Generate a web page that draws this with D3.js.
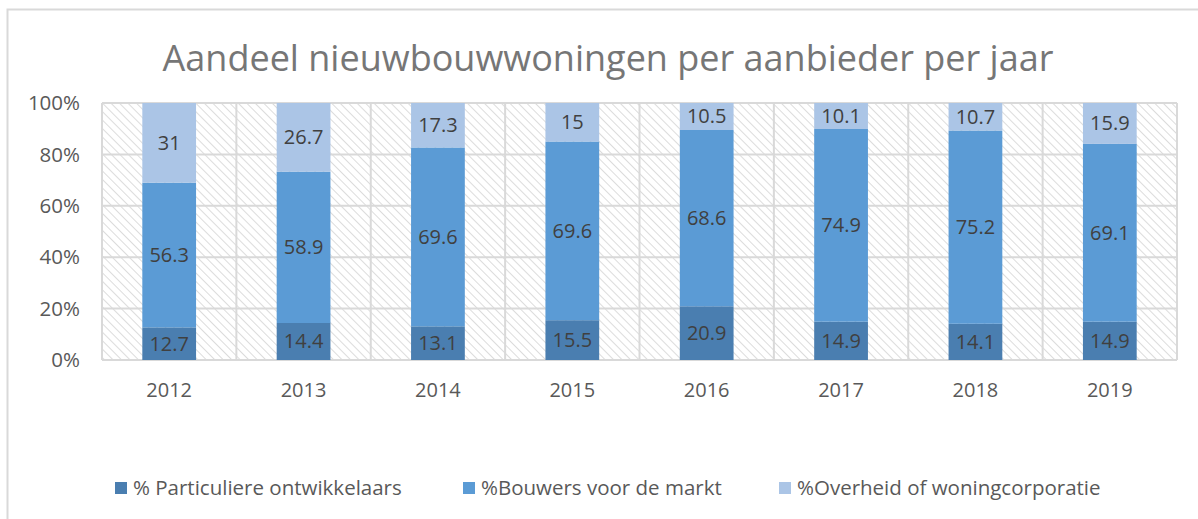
<!DOCTYPE html>
<html>
<head>
<meta charset="utf-8">
<script src="https://cdn.jsdelivr.net/npm/d3@7"></script>
<style>
  body { margin: 0; background: #fff; }
  text { font-family: "Open Sans", sans-serif; }
</style>
</head>
<body>
<div id="chart"></div>
<script>
const years = ['2012', '2013', '2014', '2015', '2016', '2017', '2018', '2019'];
const particulier = [12.7, 14.4, 13.1, 15.5, 20.9, 14.9, 14.1, 14.9];
const bouwers = [56.3, 58.9, 69.6, 69.6, 68.6, 74.9, 75.2, 69.1];
const overheid = [31, 26.7, 17.3, 15, 10.5, 10.1, 10.7, 15.9];
const seriesNames = ['% Particuliere ontwikkelaars', '%Bouwers voor de markt', '%Overheid of woningcorporatie'];
const yTicks = [0, 20, 40, 60, 80, 100];

const width = 1198;
const height = 519;
const plot = { left: 102, right: 1177, top: 103, bottom: 360 };
const colors = ['#4a7eb0', '#5b9bd5', '#abc5e6'];

const svg = d3.select('#chart').append('svg')
    .attr('width', width)
    .attr('height', height);

// hatch pattern for the plot background (lines going down to the right)
const pattern = svg.append('defs').append('pattern')
    .attr('id', 'hatch')
    .attr('patternUnits', 'userSpaceOnUse')
    .attr('width', 6)
    .attr('height', 6)
    .attr('patternTransform', 'rotate(45)');
pattern.append('rect').attr('width', 6).attr('height', 6).attr('fill', '#fff');
pattern.append('line')
    .attr('x1', 0).attr('y1', 0).attr('x2', 6).attr('y2', 0)
    .attr('stroke', '#d4d4d4')
    .attr('stroke-width', 1.6);

// outer chart border
svg.append('rect')
    .attr('x', 7.5).attr('y', 9.5)
    .attr('width', 1200).attr('height', 520)
    .attr('fill', '#fff')
    .attr('stroke', '#d9d9d9')
    .attr('stroke-width', 2);

svg.append('text')
    .attr('x', 608)
    .attr('y', 71)
    .attr('text-anchor', 'middle')
    .attr('font-size', 36)
    .attr('fill', '#767676')
    .text('Aandeel nieuwbouwwoningen per aanbieder per jaar');

const x = d3.scaleBand().domain(years).range([plot.left, plot.right]).paddingInner(0).paddingOuter(0);
const y = d3.scaleLinear().domain([0, 100]).range([plot.bottom, plot.top]);

svg.append('rect')
    .attr('x', plot.left).attr('y', plot.top)
    .attr('width', plot.right - plot.left)
    .attr('height', plot.bottom - plot.top)
    .attr('fill', 'url(#hatch)');

// gridlines
svg.append('g').selectAll('line.h')
    .data(yTicks)
    .enter().append('line')
    .attr('x1', plot.left).attr('x2', plot.right)
    .attr('y1', d => y(d)).attr('y2', d => y(d))
    .attr('stroke', '#d9d9d9')
    .attr('stroke-width', 2);

const bounds = years.map(d => x(d)).concat([plot.right]);
svg.append('g').selectAll('line.v')
    .data(bounds)
    .enter().append('line')
    .attr('x1', d => d).attr('x2', d => d)
    .attr('y1', plot.top).attr('y2', plot.bottom)
    .attr('stroke', '#d9d9d9')
    .attr('stroke-width', 2);

// stacked (100%) data
const rows = years.map((yr, i) => {
    const total = particulier[i] + bouwers[i] + overheid[i];
    return { year: yr, vals: [particulier[i], bouwers[i], overheid[i]], total };
});
const keys = [0, 1, 2];
const stack = d3.stack()
    .keys(keys)
    .value((d, k) => d.vals[k] / d.total * 100);
const series = stack(rows);

const barW = x.bandwidth() * 0.4;

const layer = svg.append('g').selectAll('g')
    .data(series)
    .enter().append('g')
    .attr('fill', (d, i) => colors[i]);

layer.selectAll('rect')
    .data(d => d)
    .enter().append('rect')
    .attr('x', d => x(d.data.year) + (x.bandwidth() - barW) / 2)
    .attr('width', barW)
    .attr('y', d => y(d[1]))
    .attr('height', d => y(d[0]) - y(d[1]));

layer.selectAll('text')
    .data((d, i) => d.map(p => ({ p, k: i })))
    .enter().append('text')
    .attr('x', d => x(d.p.data.year) + x.bandwidth() / 2)
    .attr('y', d => (y(d.p[0]) + y(d.p[1])) / 2)
    .attr('dy', '0.35em')
    .attr('text-anchor', 'middle')
    .attr('font-size', 20)
    .attr('fill', '#404040')
    .text(d => d.p.data.vals[d.k]);

// y axis labels
svg.append('g').selectAll('text')
    .data(yTicks)
    .enter().append('text')
    .attr('x', 80)
    .attr('y', d => y(d))
    .attr('dy', '0.35em')
    .attr('text-anchor', 'end')
    .attr('font-size', 20.5)
    .attr('fill', '#595959')
    .text(d => `${d}%`);

// x axis labels
svg.append('g').selectAll('text')
    .data(years)
    .enter().append('text')
    .attr('x', d => x(d) + x.bandwidth() / 2)
    .attr('y', 390)
    .attr('dy', '0.35em')
    .attr('text-anchor', 'middle')
    .attr('font-size', 20)
    .attr('fill', '#595959')
    .text(d => d);

// legend
const legendX = [115, 463, 779];
const legend = svg.append('g').selectAll('g')
    .data(seriesNames)
    .enter().append('g')
    .attr('transform', (d, i) => `translate(${legendX[i]},488)`);
legend.append('rect')
    .attr('x', 0).attr('y', -6)
    .attr('width', 12).attr('height', 12)
    .attr('fill', (d, i) => colors[i]);
legend.append('text')
    .attr('x', 18)
    .attr('dy', '0.35em')
    .attr('font-size', 20.5)
    .attr('fill', '#595959')
    .text(d => d);
</script>
</body>
</html>
